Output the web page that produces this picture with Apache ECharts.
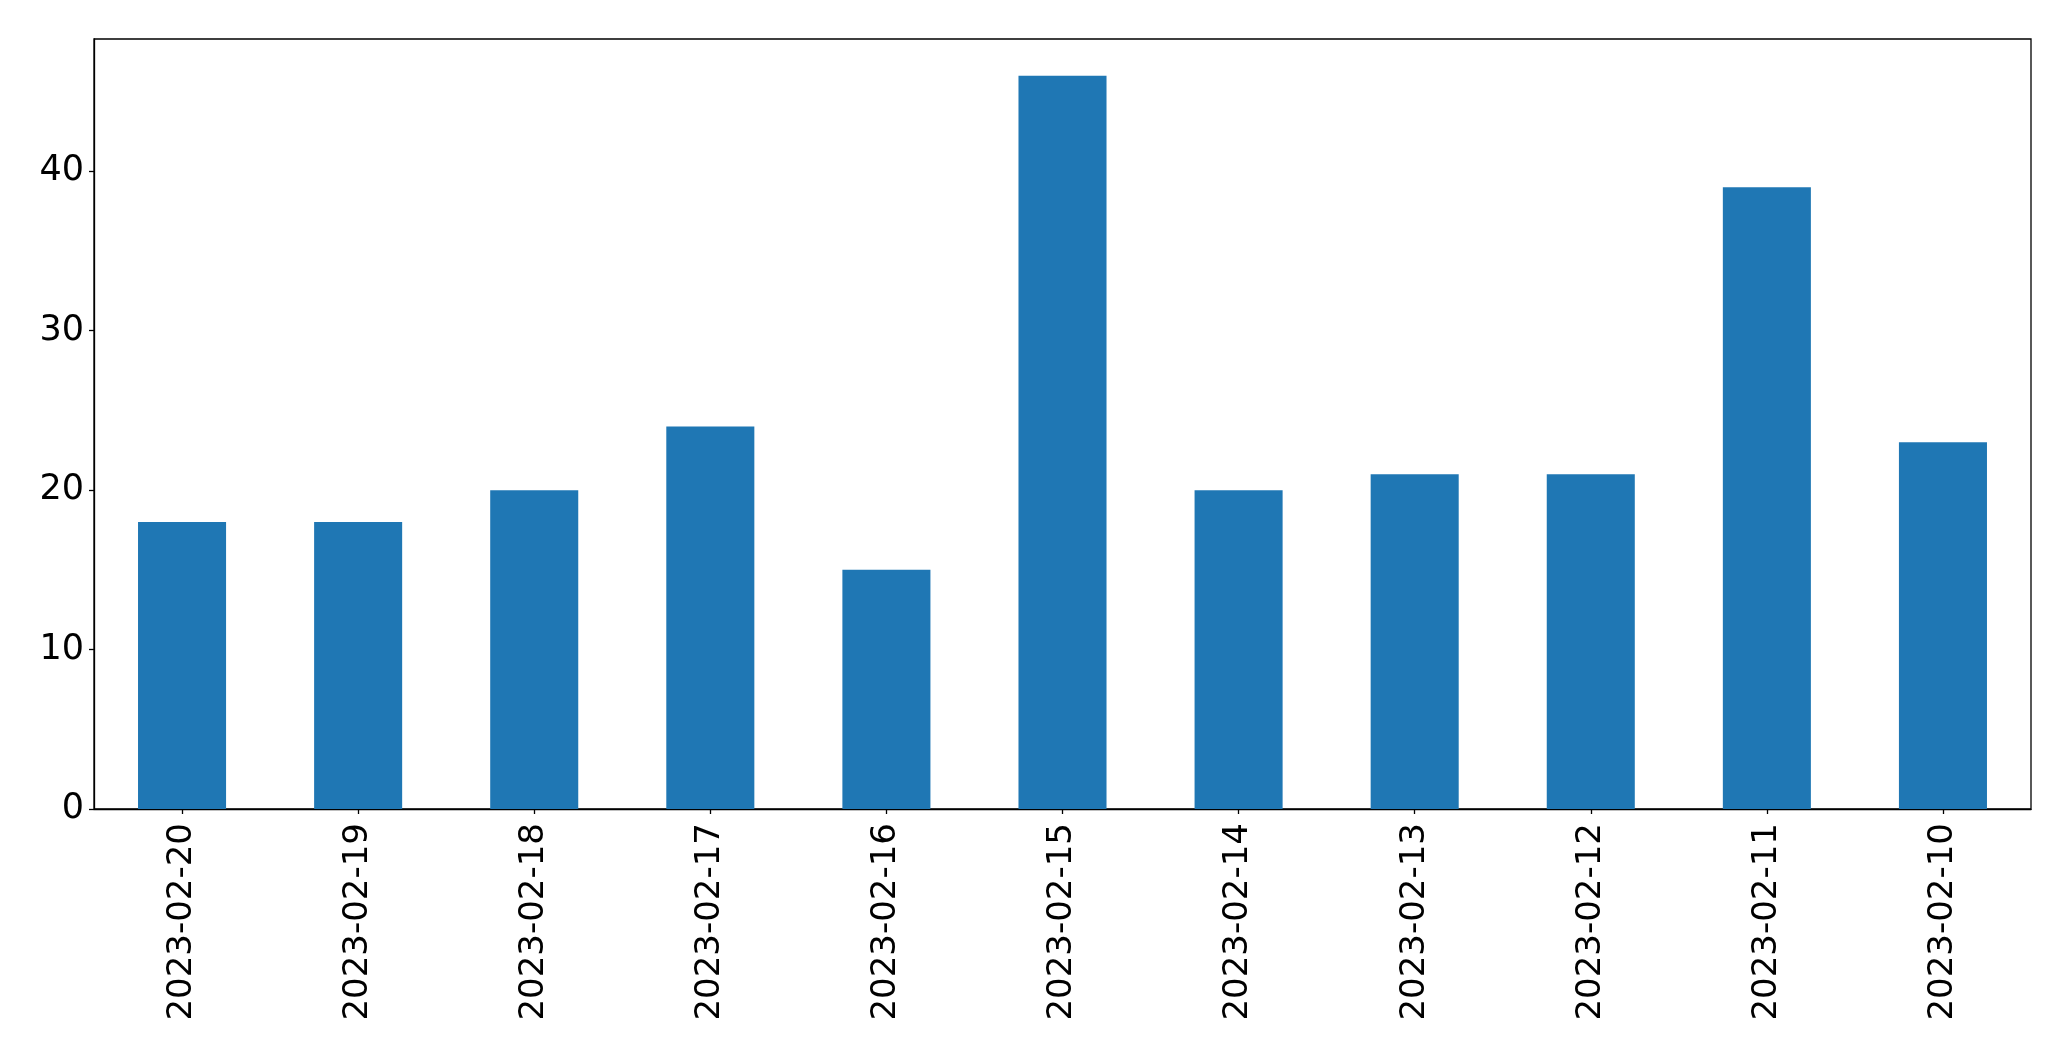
<!DOCTYPE html>
<html>
<head>
<meta charset="utf-8">
<script src="https://cdn.jsdelivr.net/npm/echarts@6/dist/echarts.min.js"></script>
<style>
html,body{margin:0;padding:0;background:#fff;}
#chart{width:2071px;height:1061px;}
</style>
</head>
<body>
<div id="chart"></div>
<script>
const categories = ['2023-02-20','2023-02-19','2023-02-18','2023-02-17','2023-02-16','2023-02-15','2023-02-14','2023-02-13','2023-02-12','2023-02-11','2023-02-10'];
const values = [18, 18, 20, 24, 15, 46, 20, 21, 21, 39, 23];
const yTicks = [0, 10, 20, 30, 40];

const chart = echarts.init(document.getElementById('chart'), null, {renderer: 'canvas'});
const font = 'DejaVu Sans';
chart.setOption({
  animation: false,
  backgroundColor: '#ffffff',
  grid: {
    left: 94, top: 39, right: 40, bottom: 252,
    show: true, borderColor: '#000000', borderWidth: 1.3, backgroundColor: 'transparent'
  },
  xAxis: {
    type: 'category',
    data: categories,
    axisLine: {show: true, lineStyle: {color: '#000', width: 1.3}},
    axisTick: {show: true, alignWithLabel: true, length: 5, lineStyle: {color: '#000', width: 1.3}},
    axisLabel: {rotate: 90, margin: 14, color: '#000', fontSize: 34, fontFamily: font, interval: 0},
    splitLine: {show: false}
  },
  yAxis: {
    type: 'value',
    min: 0,
    max: 48.3,
    interval: 10,
    axisLine: {show: true, lineStyle: {color: '#000', width: 1.3}},
    axisTick: {show: true, length: 5, lineStyle: {color: '#000', width: 1.3}},
    axisLabel: {
      margin: 10, color: '#000', fontSize: 35, fontFamily: font,
      padding: [7, 0, 0, 0],
      showMaxLabel: false,
      formatter: function (v) { return yTicks.indexOf(v) >= 0 ? String(v) : ''; }
    },
    splitLine: {show: false}
  },
  series: [{
    type: 'bar',
    data: values,
    barWidth: '50%',
    itemStyle: {color: '#1f77b4'}
  }]
});
</script>
</body>
</html>
